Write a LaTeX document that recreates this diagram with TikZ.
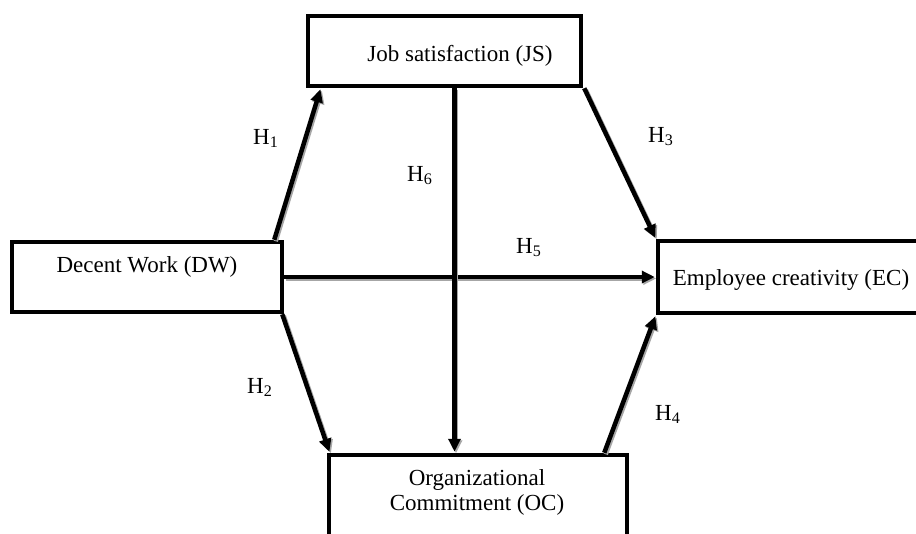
\documentclass[tikz,border=0pt]{standalone}
\usepackage{fontspec}
\setmainfont{Liberation Serif}
\usepackage{tikz}
\usetikzlibrary{positioning,arrows.meta,calc}

\begin{document}
\begin{tikzpicture}[
		x=1pt, y=-1pt,
		font=\fontsize{23pt}{25pt}\selectfont,
		box/.style={draw, line width=4.5pt, rectangle, inner sep=0pt},
		boxtext/.style={anchor=base, inner sep=0pt, align=center},
		hyp/.style={anchor=base west, inner sep=0pt},
		arr/.style={-{Triangle[length=13pt,width=12pt]}, line width=4.5pt,
				shorten >=1pt,
				preaction={draw=black!35, line width=4.5pt,
					transform canvas={shift={(1.5pt,-1.5pt)}}}}
		]
		\useasboundingbox[fill=white] (0,0) rectangle (916,533);
		\node[box, minimum width=270pt, minimum height=70pt] (dw) at (147,277) {};
		\node[box, minimum width=273pt, minimum height=70pt] (js) at (444.5,51) {};
		\node[box, minimum width=266pt, minimum height=72pt] (ec) at (791,277) {};
		\node[box, minimum width=298pt, minimum height=120pt] (oc) at (478,515) {};
		\node[boxtext] (dwtext) at ($(dw.center)+(0,-5)$) {Decent Work (DW)};
		\node[boxtext] (jstext) at ($(js.center)+(15.5,10)$) {Job satisfaction (JS)};
		\node[boxtext] (ectext) at ($(ec.center)+(0,8)$) {Employee creativity (EC)};
		\node[boxtext, anchor=north] (octext) at ($(oc.north)+(-1,17)$)
		{Organizational\\Commitment (OC)};
		\draw[arr] ($(dw.north east)+(-10,0)$) -- ($(js.south west)+(15,0)$);
		\draw[arr] ($(dw.south east)+(-2,0)$) -- ($(oc.north west)+(3,0)$);
		\draw[arr] ($(js.south east)+(1,0)$) -- (ec.north west);
		\draw[arr] ($(oc.north east)+(-25,0)$) -- (ec.south west);
		\draw[arr] (dw.east) -- (ec.west);
		\draw[arr] ([xshift=10pt]js.south) -- ([xshift=10pt]js.south |- oc.north);
		\node[hyp] (h1) at (253,144) {H\textsubscript{1}};
		\node[hyp] (h2) at (247,393) {H\textsubscript{2}};
		\node[hyp] (h3) at (648,142) {H\textsubscript{3}};
		\node[hyp] (h4) at (655,420) {H\textsubscript{4}};
		\node[hyp] (h5) at (516,253) {H\textsubscript{5}};
		\node[hyp] (h6) at (407,181) {H\textsubscript{6}};
	\end{tikzpicture}
\end{document}
